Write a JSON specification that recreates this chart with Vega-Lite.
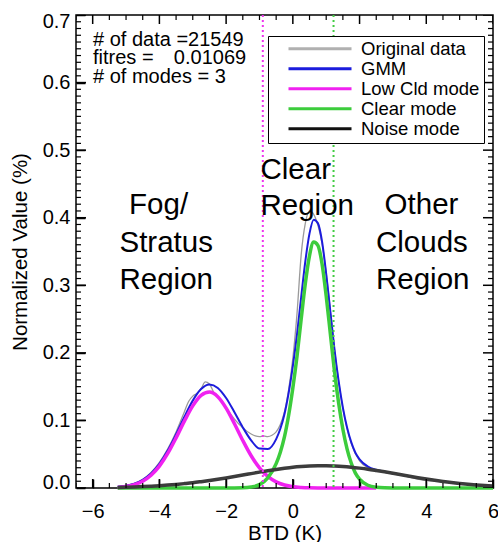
{
  "$schema": "https://vega.github.io/schema/vega-lite/v6.json",
  "width": 417,
  "height": 473,
  "autosize": {"type": "none"},
  "padding": {"left": 76, "top": 15, "right": 5, "bottom": 54},
  "background": "white",
  "config": {
    "view": {"stroke": "black", "strokeWidth": 1.5},
    "axis": {"domain": false, "grid": false, "tickColor": "black", "tickWidth": 1.5, "labelFontSize": 20}
  },
  "layer": [
    {
      "data": {"values": [
        {"s": "Original data", "x": -5.25, "y": 0.002}, {"s": "Original data", "x": -5.0, "y": 0.004}, {"s": "Original data", "x": -4.75, "y": 0.007}, {"s": "Original data", "x": -4.5, "y": 0.013}, {"s": "Original data", "x": -4.25, "y": 0.023}, {"s": "Original data", "x": -4.0, "y": 0.038}, {"s": "Original data", "x": -3.75, "y": 0.058}, {"s": "Original data", "x": -3.5, "y": 0.083}, {"s": "Original data", "x": -3.25, "y": 0.113}, {"s": "Original data", "x": -3.125, "y": 0.128}, {"s": "Original data", "x": -3.0, "y": 0.136}, {"s": "Original data", "x": -2.875, "y": 0.14}, {"s": "Original data", "x": -2.75, "y": 0.147}, {"s": "Original data", "x": -2.625, "y": 0.157}, {"s": "Original data", "x": -2.5, "y": 0.154}, {"s": "Original data", "x": -2.375, "y": 0.142}, {"s": "Original data", "x": -2.25, "y": 0.135}, {"s": "Original data", "x": -2.125, "y": 0.127}, {"s": "Original data", "x": -2.0, "y": 0.119}, {"s": "Original data", "x": -1.875, "y": 0.11}, {"s": "Original data", "x": -1.75, "y": 0.102}, {"s": "Original data", "x": -1.5, "y": 0.089}, {"s": "Original data", "x": -1.25, "y": 0.08}, {"s": "Original data", "x": -1.125, "y": 0.077}, {"s": "Original data", "x": -1.0, "y": 0.076}, {"s": "Original data", "x": -0.875, "y": 0.077}, {"s": "Original data", "x": -0.75, "y": 0.076}, {"s": "Original data", "x": -0.625, "y": 0.078}, {"s": "Original data", "x": -0.5, "y": 0.083}, {"s": "Original data", "x": -0.375, "y": 0.094}, {"s": "Original data", "x": -0.25, "y": 0.113}, {"s": "Original data", "x": -0.125, "y": 0.146}, {"s": "Original data", "x": 0.0, "y": 0.192}, {"s": "Original data", "x": 0.125, "y": 0.258}, {"s": "Original data", "x": 0.25, "y": 0.345}, {"s": "Original data", "x": 0.375, "y": 0.392}, {"s": "Original data", "x": 0.5, "y": 0.41}, {"s": "Original data", "x": 0.625, "y": 0.405}, {"s": "Original data", "x": 0.75, "y": 0.389}, {"s": "Original data", "x": 0.875, "y": 0.362}, {"s": "Original data", "x": 1.0, "y": 0.318}, {"s": "Original data", "x": 1.125, "y": 0.262}, {"s": "Original data", "x": 1.25, "y": 0.205}, {"s": "Original data", "x": 1.375, "y": 0.157}, {"s": "Original data", "x": 1.5, "y": 0.118}, {"s": "Original data", "x": 1.75, "y": 0.066}, {"s": "Original data", "x": 2.0, "y": 0.04}, {"s": "Original data", "x": 2.25, "y": 0.03}, {"s": "Original data", "x": 2.5, "y": 0.026}, {"s": "Original data", "x": 2.75, "y": 0.023}, {"s": "Original data", "x": 3.0, "y": 0.021}, {"s": "Original data", "x": 3.25, "y": 0.019}, {"s": "Original data", "x": 3.5, "y": 0.016}, {"s": "Original data", "x": 3.75, "y": 0.013}, {"s": "Original data", "x": 4.0, "y": 0.011}, {"s": "Original data", "x": 4.25, "y": 0.0105}, {"s": "Original data", "x": 4.5, "y": 0.009}, {"s": "Original data", "x": 4.75, "y": 0.0085}, {"s": "Original data", "x": 5.0, "y": 0.006}, {"s": "Original data", "x": 5.25, "y": 0.005}, {"s": "Original data", "x": 5.5, "y": 0.0045}, {"s": "Original data", "x": 5.75, "y": 0.004}, {"s": "Original data", "x": 6.0, "y": 0.003}
      ]},
      "mark": {"type": "line", "color": "#9a9a9a", "strokeWidth": 1.3, "interpolate": "monotone"},
      "encoding": {
        "x": {"field": "x", "type": "quantitative", "scale": {"domain": [-6.5, 6], "nice": false, "zero": false},
          "axis": {"orient": "bottom", "values": [-6, -4, -2, 0, 2, 4, 6], "offset": -9, "tickSize": 9, "labelPadding": 13, "labelFlush": false, "labelFont": "Liberation Sans", "labelColor": "black", "title": "BTD (K)", "titleFont": "Liberation Sans", "titleFontSize": 20.5, "titleFontWeight": "normal", "titleColor": "black", "titlePadding": 2}},
        "y": {"field": "y", "type": "quantitative", "scale": {"domain": [0, 0.7], "nice": false, "zero": false},
          "axis": {"orient": "left", "values": [0, 0.1, 0.2, 0.3, 0.4, 0.5, 0.6, 0.7], "format": ".1f", "offset": -9, "tickSize": 9, "labelPadding": 6, "labelFlush": true, "labelFlushOffset": 4, "labelFont": "Liberation Sans", "labelColor": "black", "title": "Normalized Value (%)", "titleFont": "Liberation Sans", "titleFontSize": 20.5, "titleFontWeight": "normal", "titleColor": "black", "titlePadding": 12}}
      }
    },
    {
      "data": {"values": [
        {"s": "GMM", "x": -5.25, "y": 0.0018}, {"s": "GMM", "x": -5.0, "y": 0.0034}, {"s": "GMM", "x": -4.75, "y": 0.0065}, {"s": "GMM", "x": -4.5, "y": 0.0121}, {"s": "GMM", "x": -4.25, "y": 0.0215}, {"s": "GMM", "x": -4.0, "y": 0.0357}, {"s": "GMM", "x": -3.75, "y": 0.0554}, {"s": "GMM", "x": -3.5, "y": 0.0795}, {"s": "GMM", "x": -3.25, "y": 0.1055}, {"s": "GMM", "x": -3.0, "y": 0.1293}, {"s": "GMM", "x": -2.75, "y": 0.1464}, {"s": "GMM", "x": -2.5, "y": 0.1531}, {"s": "GMM", "x": -2.25, "y": 0.1481}, {"s": "GMM", "x": -2.0, "y": 0.1332}, {"s": "GMM", "x": -1.75, "y": 0.1121}, {"s": "GMM", "x": -1.5, "y": 0.0897}, {"s": "GMM", "x": -1.25, "y": 0.0705}, {"s": "GMM", "x": -1.0, "y": 0.0583}, {"s": "GMM", "x": -0.75, "y": 0.0576}, {"s": "GMM", "x": -0.5, "y": 0.0724}, {"s": "GMM", "x": -0.375, "y": 0.0876}, {"s": "GMM", "x": -0.25, "y": 0.1095}, {"s": "GMM", "x": -0.125, "y": 0.1408}, {"s": "GMM", "x": 0.0, "y": 0.1805}, {"s": "GMM", "x": 0.125, "y": 0.2275}, {"s": "GMM", "x": 0.25, "y": 0.2825}, {"s": "GMM", "x": 0.375, "y": 0.3357}, {"s": "GMM", "x": 0.5, "y": 0.3768}, {"s": "GMM", "x": 0.625, "y": 0.397}, {"s": "GMM", "x": 0.75, "y": 0.392}, {"s": "GMM", "x": 0.875, "y": 0.365}, {"s": "GMM", "x": 1.0, "y": 0.317}, {"s": "GMM", "x": 1.125, "y": 0.2608}, {"s": "GMM", "x": 1.25, "y": 0.2046}, {"s": "GMM", "x": 1.375, "y": 0.1573}, {"s": "GMM", "x": 1.5, "y": 0.1189}, {"s": "GMM", "x": 1.625, "y": 0.0894}, {"s": "GMM", "x": 1.75, "y": 0.0678}, {"s": "GMM", "x": 1.875, "y": 0.0522}, {"s": "GMM", "x": 2.0, "y": 0.0424}, {"s": "GMM", "x": 2.25, "y": 0.0318}, {"s": "GMM", "x": 2.5, "y": 0.0269}, {"s": "GMM", "x": 2.75, "y": 0.0241}, {"s": "GMM", "x": 3.0, "y": 0.0218}, {"s": "GMM", "x": 3.25, "y": 0.0196}, {"s": "GMM", "x": 3.5, "y": 0.0174}, {"s": "GMM", "x": 3.75, "y": 0.0153}, {"s": "GMM", "x": 4.0, "y": 0.0133}, {"s": "GMM", "x": 4.25, "y": 0.0114}, {"s": "GMM", "x": 4.5, "y": 0.0097}, {"s": "GMM", "x": 4.75, "y": 0.0081}, {"s": "GMM", "x": 5.0, "y": 0.0067}, {"s": "GMM", "x": 5.25, "y": 0.0055}, {"s": "GMM", "x": 5.5, "y": 0.0045}, {"s": "GMM", "x": 5.75, "y": 0.0036}, {"s": "GMM", "x": 6.0, "y": 0.0028}
      ]},
      "mark": {"type": "line", "color": "#1c1cdc", "strokeWidth": 2, "interpolate": "monotone"},
      "encoding": {
        "x": {"field": "x", "type": "quantitative", "scale": {"domain": [-6.5, 6], "nice": false, "zero": false}, "axis": null},
        "y": {"field": "y", "type": "quantitative", "scale": {"domain": [0, 0.7], "nice": false, "zero": false}, "axis": null}
      }
    },
    {
      "data": {"values": [
        {"s": "Low Cld mode", "x": -5.25, "y": 0.0009}, {"s": "Low Cld mode", "x": -5.0, "y": 0.0022}, {"s": "Low Cld mode", "x": -4.75, "y": 0.0049}, {"s": "Low Cld mode", "x": -4.5, "y": 0.01}, {"s": "Low Cld mode", "x": -4.25, "y": 0.0188}, {"s": "Low Cld mode", "x": -4.0, "y": 0.0323}, {"s": "Low Cld mode", "x": -3.75, "y": 0.0511}, {"s": "Low Cld mode", "x": -3.5, "y": 0.0742}, {"s": "Low Cld mode", "x": -3.25, "y": 0.099}, {"s": "Low Cld mode", "x": -3.0, "y": 0.1215}, {"s": "Low Cld mode", "x": -2.75, "y": 0.137}, {"s": "Low Cld mode", "x": -2.5, "y": 0.142}, {"s": "Low Cld mode", "x": -2.25, "y": 0.1352}, {"s": "Low Cld mode", "x": -2.0, "y": 0.1183}, {"s": "Low Cld mode", "x": -1.75, "y": 0.0951}, {"s": "Low Cld mode", "x": -1.5, "y": 0.0703}, {"s": "Low Cld mode", "x": -1.25, "y": 0.0477}, {"s": "Low Cld mode", "x": -1.0, "y": 0.0298}, {"s": "Low Cld mode", "x": -0.75, "y": 0.0171}, {"s": "Low Cld mode", "x": -0.5, "y": 0.009}, {"s": "Low Cld mode", "x": -0.25, "y": 0.0044}, {"s": "Low Cld mode", "x": 0.0, "y": 0.0019}, {"s": "Low Cld mode", "x": 0.25, "y": 0.0008}, {"s": "Low Cld mode", "x": 0.5, "y": 0.0003}, {"s": "Low Cld mode", "x": 1.0, "y": 0.0}, {"s": "Low Cld mode", "x": 1.5, "y": 0.0}, {"s": "Low Cld mode", "x": 2.0, "y": 0.0}, {"s": "Low Cld mode", "x": 2.5, "y": 0.0}
      ]},
      "mark": {"type": "line", "color": "#f022f0", "strokeWidth": 3.5, "interpolate": "monotone"},
      "encoding": {
        "x": {"field": "x", "type": "quantitative", "scale": {"domain": [-6.5, 6], "nice": false, "zero": false}, "axis": null},
        "y": {"field": "y", "type": "quantitative", "scale": {"domain": [0, 0.7], "nice": false, "zero": false}, "axis": null}
      }
    },
    {
      "data": {"values": [
        {"s": "Clear mode", "x": -5.25, "y": 0.0}, {"s": "Clear mode", "x": -4.0, "y": 0.0}, {"s": "Clear mode", "x": -3.0, "y": 0.0}, {"s": "Clear mode", "x": -2.0, "y": 0.0}, {"s": "Clear mode", "x": -1.5, "y": 0.0003}, {"s": "Clear mode", "x": -1.25, "y": 0.0015}, {"s": "Clear mode", "x": -1.0, "y": 0.005}, {"s": "Clear mode", "x": -0.75, "y": 0.015}, {"s": "Clear mode", "x": -0.5, "y": 0.036}, {"s": "Clear mode", "x": -0.375, "y": 0.053}, {"s": "Clear mode", "x": -0.25, "y": 0.076}, {"s": "Clear mode", "x": -0.125, "y": 0.108}, {"s": "Clear mode", "x": 0.0, "y": 0.148}, {"s": "Clear mode", "x": 0.125, "y": 0.195}, {"s": "Clear mode", "x": 0.25, "y": 0.25}, {"s": "Clear mode", "x": 0.375, "y": 0.303}, {"s": "Clear mode", "x": 0.5, "y": 0.344}, {"s": "Clear mode", "x": 0.625, "y": 0.364}, {"s": "Clear mode", "x": 0.75, "y": 0.359}, {"s": "Clear mode", "x": 0.875, "y": 0.332}, {"s": "Clear mode", "x": 1.0, "y": 0.284}, {"s": "Clear mode", "x": 1.125, "y": 0.228}, {"s": "Clear mode", "x": 1.25, "y": 0.172}, {"s": "Clear mode", "x": 1.375, "y": 0.125}, {"s": "Clear mode", "x": 1.5, "y": 0.087}, {"s": "Clear mode", "x": 1.625, "y": 0.058}, {"s": "Clear mode", "x": 1.75, "y": 0.037}, {"s": "Clear mode", "x": 1.875, "y": 0.022}, {"s": "Clear mode", "x": 2.0, "y": 0.013}, {"s": "Clear mode", "x": 2.25, "y": 0.004}, {"s": "Clear mode", "x": 2.5, "y": 0.001}, {"s": "Clear mode", "x": 2.75, "y": 0.0002}, {"s": "Clear mode", "x": 3.0, "y": 0.0}, {"s": "Clear mode", "x": 4.0, "y": 0.0}, {"s": "Clear mode", "x": 5.0, "y": 0.0}, {"s": "Clear mode", "x": 6.0, "y": 0.0}
      ]},
      "mark": {"type": "line", "color": "#3ccc3c", "strokeWidth": 3.5, "interpolate": "monotone"},
      "encoding": {
        "x": {"field": "x", "type": "quantitative", "scale": {"domain": [-6.5, 6], "nice": false, "zero": false}, "axis": null},
        "y": {"field": "y", "type": "quantitative", "scale": {"domain": [0, 0.7], "nice": false, "zero": false}, "axis": null}
      }
    },
    {
      "data": {"values": [
        {"s": "Noise mode", "x": -5.25, "y": 0.0009}, {"s": "Noise mode", "x": -5.0, "y": 0.0012}, {"s": "Noise mode", "x": -4.75, "y": 0.0016}, {"s": "Noise mode", "x": -4.5, "y": 0.0021}, {"s": "Noise mode", "x": -4.25, "y": 0.0027}, {"s": "Noise mode", "x": -4.0, "y": 0.0034}, {"s": "Noise mode", "x": -3.75, "y": 0.0043}, {"s": "Noise mode", "x": -3.5, "y": 0.0053}, {"s": "Noise mode", "x": -3.25, "y": 0.0065}, {"s": "Noise mode", "x": -3.0, "y": 0.0078}, {"s": "Noise mode", "x": -2.75, "y": 0.0094}, {"s": "Noise mode", "x": -2.5, "y": 0.0111}, {"s": "Noise mode", "x": -2.25, "y": 0.0129}, {"s": "Noise mode", "x": -2.0, "y": 0.0149}, {"s": "Noise mode", "x": -1.75, "y": 0.017}, {"s": "Noise mode", "x": -1.5, "y": 0.0191}, {"s": "Noise mode", "x": -1.25, "y": 0.0213}, {"s": "Noise mode", "x": -1.0, "y": 0.0235}, {"s": "Noise mode", "x": -0.75, "y": 0.0255}, {"s": "Noise mode", "x": -0.5, "y": 0.0274}, {"s": "Noise mode", "x": -0.25, "y": 0.0291}, {"s": "Noise mode", "x": 0.0, "y": 0.0306}, {"s": "Noise mode", "x": 0.25, "y": 0.0317}, {"s": "Noise mode", "x": 0.5, "y": 0.0325}, {"s": "Noise mode", "x": 0.75, "y": 0.0329}, {"s": "Noise mode", "x": 1.0, "y": 0.033}, {"s": "Noise mode", "x": 1.25, "y": 0.0326}, {"s": "Noise mode", "x": 1.5, "y": 0.0319}, {"s": "Noise mode", "x": 1.75, "y": 0.0308}, {"s": "Noise mode", "x": 2.0, "y": 0.0294}, {"s": "Noise mode", "x": 2.25, "y": 0.0278}, {"s": "Noise mode", "x": 2.5, "y": 0.0259}, {"s": "Noise mode", "x": 2.75, "y": 0.0239}, {"s": "Noise mode", "x": 3.0, "y": 0.0218}, {"s": "Noise mode", "x": 3.25, "y": 0.0196}, {"s": "Noise mode", "x": 3.5, "y": 0.0174}, {"s": "Noise mode", "x": 3.75, "y": 0.0153}, {"s": "Noise mode", "x": 4.0, "y": 0.0133}, {"s": "Noise mode", "x": 4.25, "y": 0.0114}, {"s": "Noise mode", "x": 4.5, "y": 0.0097}, {"s": "Noise mode", "x": 4.75, "y": 0.0081}, {"s": "Noise mode", "x": 5.0, "y": 0.0067}, {"s": "Noise mode", "x": 5.25, "y": 0.0055}, {"s": "Noise mode", "x": 5.5, "y": 0.0045}, {"s": "Noise mode", "x": 5.75, "y": 0.0036}, {"s": "Noise mode", "x": 6.0, "y": 0.0028}
      ]},
      "mark": {"type": "line", "color": "#3c3c3c", "strokeWidth": 3.5, "interpolate": "monotone"},
      "encoding": {
        "x": {"field": "x", "type": "quantitative", "scale": {"domain": [-6.5, 6], "nice": false, "zero": false}, "axis": null},
        "y": {"field": "y", "type": "quantitative", "scale": {"domain": [0, 0.7], "nice": false, "zero": false}, "axis": null}
      }
    },
    {
      "data": {"values": [{"x": -0.9}]},
      "mark": {"type": "rule", "color": "#ee33ee", "strokeWidth": 2, "strokeDash": [2, 3]},
      "encoding": {"x": {"field": "x", "type": "quantitative", "scale": {"domain": [-6.5, 6], "nice": false, "zero": false}, "axis": null}}
    },
    {
      "data": {"values": [{"x": 1.22}]},
      "mark": {"type": "rule", "color": "#44cc44", "strokeWidth": 2, "strokeDash": [2, 3]},
      "encoding": {"x": {"field": "x", "type": "quantitative", "scale": {"domain": [-6.5, 6], "nice": false, "zero": false}, "axis": null}}
    },
    {
      "data": {"values": [
        {"x": -6, "y": 0}, {"x": -4, "y": 0}, {"x": -2, "y": 0}, {"x": 0, "y": 0}, {"x": 2, "y": 0}, {"x": 4, "y": 0}, {"x": 6, "y": 0},
        {"x": -6, "y": 0.7}, {"x": -4, "y": 0.7}, {"x": -2, "y": 0.7}, {"x": 0, "y": 0.7}, {"x": 2, "y": 0.7}, {"x": 4, "y": 0.7}, {"x": 6, "y": 0.7}
      ]},
      "mark": {"type": "tick", "orient": "vertical", "color": "black", "opacity": 1, "thickness": 1.5, "size": 18, "clip": true},
      "encoding": {
        "x": {"field": "x", "type": "quantitative", "scale": {"domain": [-6.5, 6], "nice": false, "zero": false}, "axis": null},
        "y": {"field": "y", "type": "quantitative", "scale": {"domain": [0, 0.7], "nice": false, "zero": false}, "axis": null}
      }
    },
    {
      "data": {"values": [
        {"x": -6.5, "y": 0}, {"x": -5.5, "y": 0}, {"x": -5, "y": 0}, {"x": -4.5, "y": 0}, {"x": -3.5, "y": 0}, {"x": -3, "y": 0}, {"x": -2.5, "y": 0}, {"x": -1.5, "y": 0}, {"x": -1, "y": 0}, {"x": -0.5, "y": 0}, {"x": 0.5, "y": 0}, {"x": 1, "y": 0}, {"x": 1.5, "y": 0}, {"x": 2.5, "y": 0}, {"x": 3, "y": 0}, {"x": 3.5, "y": 0}, {"x": 4.5, "y": 0}, {"x": 5, "y": 0}, {"x": 5.5, "y": 0},
        {"x": -6.5, "y": 0.7}, {"x": -5.5, "y": 0.7}, {"x": -5, "y": 0.7}, {"x": -4.5, "y": 0.7}, {"x": -3.5, "y": 0.7}, {"x": -3, "y": 0.7}, {"x": -2.5, "y": 0.7}, {"x": -1.5, "y": 0.7}, {"x": -1, "y": 0.7}, {"x": -0.5, "y": 0.7}, {"x": 0.5, "y": 0.7}, {"x": 1, "y": 0.7}, {"x": 1.5, "y": 0.7}, {"x": 2.5, "y": 0.7}, {"x": 3, "y": 0.7}, {"x": 3.5, "y": 0.7}, {"x": 4.5, "y": 0.7}, {"x": 5, "y": 0.7}, {"x": 5.5, "y": 0.7}
      ]},
      "mark": {"type": "tick", "orient": "vertical", "color": "black", "opacity": 1, "thickness": 1.2, "size": 10, "clip": true},
      "encoding": {
        "x": {"field": "x", "type": "quantitative", "scale": {"domain": [-6.5, 6], "nice": false, "zero": false}, "axis": null},
        "y": {"field": "y", "type": "quantitative", "scale": {"domain": [0, 0.7], "nice": false, "zero": false}, "axis": null}
      }
    },
    {
      "data": {"values": [
        {"x": -6.5, "y": 0}, {"x": -6.5, "y": 0.1}, {"x": -6.5, "y": 0.2}, {"x": -6.5, "y": 0.3}, {"x": -6.5, "y": 0.4}, {"x": -6.5, "y": 0.5}, {"x": -6.5, "y": 0.6}, {"x": -6.5, "y": 0.7},
        {"x": 6, "y": 0}, {"x": 6, "y": 0.1}, {"x": 6, "y": 0.2}, {"x": 6, "y": 0.3}, {"x": 6, "y": 0.4}, {"x": 6, "y": 0.5}, {"x": 6, "y": 0.6}, {"x": 6, "y": 0.7}
      ]},
      "mark": {"type": "tick", "orient": "horizontal", "color": "black", "opacity": 1, "thickness": 1.5, "size": 20, "clip": true},
      "encoding": {
        "x": {"field": "x", "type": "quantitative", "scale": {"domain": [-6.5, 6], "nice": false, "zero": false}, "axis": null},
        "y": {"field": "y", "type": "quantitative", "scale": {"domain": [0, 0.7], "nice": false, "zero": false}, "axis": null}
      }
    },
    {
      "data": {"values": [
        {"x": -6.5, "y": 0.01}, {"x": -6.5, "y": 0.02}, {"x": -6.5, "y": 0.03}, {"x": -6.5, "y": 0.04}, {"x": -6.5, "y": 0.05}, {"x": -6.5, "y": 0.06}, {"x": -6.5, "y": 0.07}, {"x": -6.5, "y": 0.08}, {"x": -6.5, "y": 0.09},
        {"x": -6.5, "y": 0.11}, {"x": -6.5, "y": 0.12}, {"x": -6.5, "y": 0.13}, {"x": -6.5, "y": 0.14}, {"x": -6.5, "y": 0.15}, {"x": -6.5, "y": 0.16}, {"x": -6.5, "y": 0.17}, {"x": -6.5, "y": 0.18}, {"x": -6.5, "y": 0.19},
        {"x": -6.5, "y": 0.21}, {"x": -6.5, "y": 0.22}, {"x": -6.5, "y": 0.23}, {"x": -6.5, "y": 0.24}, {"x": -6.5, "y": 0.25}, {"x": -6.5, "y": 0.26}, {"x": -6.5, "y": 0.27}, {"x": -6.5, "y": 0.28}, {"x": -6.5, "y": 0.29},
        {"x": -6.5, "y": 0.31}, {"x": -6.5, "y": 0.32}, {"x": -6.5, "y": 0.33}, {"x": -6.5, "y": 0.34}, {"x": -6.5, "y": 0.35}, {"x": -6.5, "y": 0.36}, {"x": -6.5, "y": 0.37}, {"x": -6.5, "y": 0.38}, {"x": -6.5, "y": 0.39},
        {"x": -6.5, "y": 0.41}, {"x": -6.5, "y": 0.42}, {"x": -6.5, "y": 0.43}, {"x": -6.5, "y": 0.44}, {"x": -6.5, "y": 0.45}, {"x": -6.5, "y": 0.46}, {"x": -6.5, "y": 0.47}, {"x": -6.5, "y": 0.48}, {"x": -6.5, "y": 0.49},
        {"x": -6.5, "y": 0.51}, {"x": -6.5, "y": 0.52}, {"x": -6.5, "y": 0.53}, {"x": -6.5, "y": 0.54}, {"x": -6.5, "y": 0.55}, {"x": -6.5, "y": 0.56}, {"x": -6.5, "y": 0.57}, {"x": -6.5, "y": 0.58}, {"x": -6.5, "y": 0.59},
        {"x": -6.5, "y": 0.61}, {"x": -6.5, "y": 0.62}, {"x": -6.5, "y": 0.63}, {"x": -6.5, "y": 0.64}, {"x": -6.5, "y": 0.65}, {"x": -6.5, "y": 0.66}, {"x": -6.5, "y": 0.67}, {"x": -6.5, "y": 0.68}, {"x": -6.5, "y": 0.69},
        {"x": 6, "y": 0.01}, {"x": 6, "y": 0.02}, {"x": 6, "y": 0.03}, {"x": 6, "y": 0.04}, {"x": 6, "y": 0.05}, {"x": 6, "y": 0.06}, {"x": 6, "y": 0.07}, {"x": 6, "y": 0.08}, {"x": 6, "y": 0.09},
        {"x": 6, "y": 0.11}, {"x": 6, "y": 0.12}, {"x": 6, "y": 0.13}, {"x": 6, "y": 0.14}, {"x": 6, "y": 0.15}, {"x": 6, "y": 0.16}, {"x": 6, "y": 0.17}, {"x": 6, "y": 0.18}, {"x": 6, "y": 0.19},
        {"x": 6, "y": 0.21}, {"x": 6, "y": 0.22}, {"x": 6, "y": 0.23}, {"x": 6, "y": 0.24}, {"x": 6, "y": 0.25}, {"x": 6, "y": 0.26}, {"x": 6, "y": 0.27}, {"x": 6, "y": 0.28}, {"x": 6, "y": 0.29},
        {"x": 6, "y": 0.31}, {"x": 6, "y": 0.32}, {"x": 6, "y": 0.33}, {"x": 6, "y": 0.34}, {"x": 6, "y": 0.35}, {"x": 6, "y": 0.36}, {"x": 6, "y": 0.37}, {"x": 6, "y": 0.38}, {"x": 6, "y": 0.39},
        {"x": 6, "y": 0.41}, {"x": 6, "y": 0.42}, {"x": 6, "y": 0.43}, {"x": 6, "y": 0.44}, {"x": 6, "y": 0.45}, {"x": 6, "y": 0.46}, {"x": 6, "y": 0.47}, {"x": 6, "y": 0.48}, {"x": 6, "y": 0.49},
        {"x": 6, "y": 0.51}, {"x": 6, "y": 0.52}, {"x": 6, "y": 0.53}, {"x": 6, "y": 0.54}, {"x": 6, "y": 0.55}, {"x": 6, "y": 0.56}, {"x": 6, "y": 0.57}, {"x": 6, "y": 0.58}, {"x": 6, "y": 0.59},
        {"x": 6, "y": 0.61}, {"x": 6, "y": 0.62}, {"x": 6, "y": 0.63}, {"x": 6, "y": 0.64}, {"x": 6, "y": 0.65}, {"x": 6, "y": 0.66}, {"x": 6, "y": 0.67}, {"x": 6, "y": 0.68}, {"x": 6, "y": 0.69}
      ]},
      "mark": {"type": "tick", "orient": "horizontal", "color": "black", "opacity": 1, "thickness": 1.2, "size": 10, "clip": true},
      "encoding": {
        "x": {"field": "x", "type": "quantitative", "scale": {"domain": [-6.5, 6], "nice": false, "zero": false}, "axis": null},
        "y": {"field": "y", "type": "quantitative", "scale": {"domain": [0, 0.7], "nice": false, "zero": false}, "axis": null}
      }
    },
    {
      "data": {"values": [
        {"t": "Fog/", "x": -4.91, "y": 0.4055},
        {"t": "Stratus", "x": -5.196, "y": 0.35},
        {"t": "Region", "x": -5.196, "y": 0.2938},
        {"t": "Clear", "x": -0.97, "y": 0.458},
        {"t": "Region", "x": -0.97, "y": 0.404},
        {"t": "Other", "x": 2.75, "y": 0.4055},
        {"t": "Clouds", "x": 2.493, "y": 0.35},
        {"t": "Region", "x": 2.493, "y": 0.2938}
      ]},
      "mark": {"type": "text", "align": "left", "baseline": "alphabetic", "fontSize": 29.5, "font": "Liberation Sans", "color": "black"},
      "encoding": {
        "x": {"field": "x", "type": "quantitative", "scale": {"domain": [-6.5, 6], "nice": false, "zero": false}, "axis": null},
        "y": {"field": "y", "type": "quantitative", "scale": {"domain": [0, 0.7], "nice": false, "zero": false}, "axis": null},
        "text": {"field": "t"}
      }
    },
    {
      "data": {"values": [
        {"t": "# of data =21549", "x": -5.99, "y": 0.6546},
        {"t": "fitres =", "x": -5.99, "y": 0.6275},
        {"t": "# of modes = 3", "x": -5.99, "y": 0.5998}
      ]},
      "mark": {"type": "text", "align": "left", "baseline": "alphabetic", "fontSize": 20, "font": "Liberation Sans", "color": "black"},
      "encoding": {
        "x": {"field": "x", "type": "quantitative", "scale": {"domain": [-6.5, 6], "nice": false, "zero": false}, "axis": null},
        "y": {"field": "y", "type": "quantitative", "scale": {"domain": [0, 0.7], "nice": false, "zero": false}, "axis": null},
        "text": {"field": "t"}
      }
    },
    {
      "data": {"values": [
        {"t": "0.01069", "x": -1.4, "y": 0.6275}
      ]},
      "mark": {"type": "text", "align": "right", "baseline": "alphabetic", "fontSize": 20, "font": "Liberation Sans", "color": "black"},
      "encoding": {
        "x": {"field": "x", "type": "quantitative", "scale": {"domain": [-6.5, 6], "nice": false, "zero": false}, "axis": null},
        "y": {"field": "y", "type": "quantitative", "scale": {"domain": [0, 0.7], "nice": false, "zero": false}, "axis": null},
        "text": {"field": "t"}
      }
    },
    {
      "data": {"values": [
        {"s": "Original data", "x": 0, "y": 0},
        {"s": "GMM", "x": 0, "y": 0},
        {"s": "Low Cld mode", "x": 0, "y": 0},
        {"s": "Clear mode", "x": 0, "y": 0},
        {"s": "Noise mode", "x": 0, "y": 0}
      ]},
      "mark": {"type": "rule", "strokeWidth": 3},
      "encoding": {
        "x": {"field": "x", "type": "quantitative", "scale": {"domain": [-6.5, 6], "nice": false, "zero": false}, "axis": null},
        "x2": {"field": "x"},
        "y": {"field": "y", "type": "quantitative", "scale": {"domain": [0, 0.7], "nice": false, "zero": false}, "axis": null},
        "y2": {"field": "y"},
        "color": {"field": "s", "type": "nominal",
          "scale": {"domain": ["Original data", "GMM", "Low Cld mode", "Clear mode", "Noise mode"], "range": ["#b0b0b0", "#1c1cdc", "#f022f0", "#3ccc3c", "#111111"]},
          "legend": {"orient": "none", "legendX": 192, "legendY": 21, "title": null, "symbolType": "stroke", "symbolSize": 3969, "symbolStrokeWidth": 3, "labelFontSize": 18.5, "labelFont": "Liberation Sans", "labelColor": "black", "strokeColor": "black", "fillColor": "white", "padding": 4, "clipHeight": 17.5, "rowPadding": 0, "symbolOffset": 15, "labelOffset": 8}}
      }
    }
  ],
  "resolve": {"axis": {"x": "independent", "y": "independent"}}
}
